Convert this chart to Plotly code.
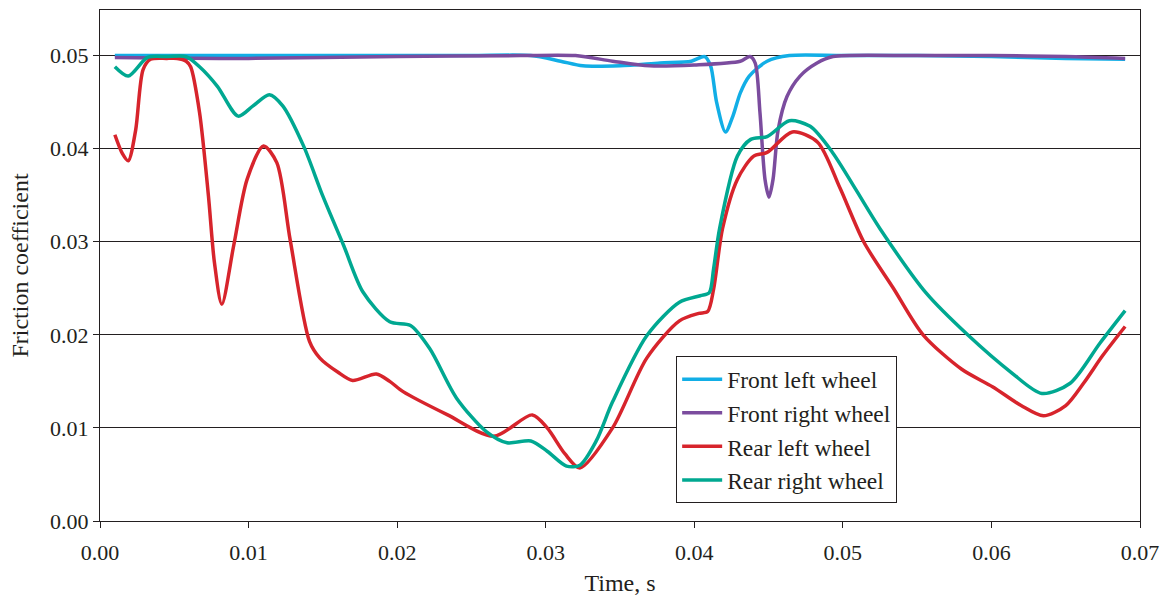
import plotly.graph_objects as go

# Friction coefficient of each wheel over time
t_front_left = [0.001, 0.005, 0.010, 0.015, 0.020, 0.025, 0.029, 0.031, 0.0325, 0.035, 0.0377,
                0.0398, 0.0407, 0.0411, 0.0415, 0.0421, 0.0426, 0.0431, 0.0437, 0.0449, 0.0464,
                0.050, 0.055, 0.060, 0.065, 0.069]
mu_front_left = [0.0500, 0.0500, 0.0500, 0.0500, 0.0500, 0.0500, 0.0500, 0.0494, 0.0489, 0.0489, 0.0492,
                 0.0494, 0.0499, 0.0489, 0.0450, 0.0418, 0.0435, 0.0460, 0.0478, 0.0494, 0.0500,
                 0.0500, 0.0500, 0.0499, 0.0497, 0.0496]

t_front_right = [0.001, 0.010, 0.020, 0.0283, 0.032, 0.0345, 0.0370, 0.0400, 0.0431, 0.04375, 0.0441,
                 0.04442, 0.04476, 0.04503, 0.0453, 0.04564, 0.04624, 0.04712, 0.04826, 0.04934,
                 0.055, 0.060, 0.065, 0.069]
mu_front_right = [0.0498, 0.0497, 0.0499, 0.0500, 0.0500, 0.0494, 0.0489, 0.0490, 0.0494, 0.0499, 0.0492,
                  0.0439, 0.0367, 0.0348, 0.0367, 0.0420, 0.0456, 0.0478, 0.0492, 0.0499,
                  0.0500, 0.0500, 0.0499, 0.0497]

t_rear_left = [0.0010, 0.0015, 0.0019, 0.0024, 0.0029, 0.0034, 0.0045, 0.0052, 0.0058, 0.0061, 0.0067,
               0.0073, 0.0077, 0.0082, 0.0090, 0.0099, 0.0110, 0.0119, 0.0128, 0.0141, 0.0148,
               0.0160, 0.0170, 0.0186, 0.0195, 0.0204, 0.0234, 0.0265, 0.0291, 0.0301, 0.0313,
               0.0323, 0.0345, 0.0368, 0.0390, 0.0403, 0.0409, 0.0413, 0.0419, 0.0429, 0.0440,
               0.0449, 0.0466, 0.0483, 0.0498, 0.0514, 0.0534, 0.0554, 0.0580, 0.0601, 0.0620,
               0.0635, 0.0650, 0.0662, 0.0675, 0.0690]
mu_rear_left = [0.0415, 0.0395, 0.0387, 0.0420, 0.0485, 0.0496, 0.0497, 0.0497, 0.0494, 0.0488, 0.0439,
                0.0349, 0.0278, 0.0233, 0.0296, 0.0367, 0.0403, 0.0385, 0.0302, 0.0193, 0.0175,
                0.0160, 0.0151, 0.0158, 0.0150, 0.0139, 0.0114, 0.0091, 0.0114, 0.0100, 0.0072,
                0.0057, 0.0100, 0.0175, 0.0215, 0.0223, 0.0225, 0.0249, 0.0314, 0.0367, 0.0392,
                0.0396, 0.0418, 0.0407, 0.0358, 0.0300, 0.0250, 0.0200, 0.0163, 0.0144, 0.0124,
                0.0113, 0.0124, 0.0148, 0.0178, 0.0209]

t_rear_right = [0.0010, 0.0019, 0.0032, 0.0045, 0.0058, 0.0067, 0.0079, 0.0093, 0.0103, 0.0114, 0.0123,
                0.0137, 0.0150, 0.0164, 0.0177, 0.0195, 0.0209, 0.0222, 0.0240, 0.0260, 0.0274,
                0.0290, 0.0301, 0.0314, 0.0323, 0.0334, 0.0345, 0.0368, 0.0390, 0.0404, 0.0410,
                0.0413, 0.0417, 0.0429, 0.0438, 0.0449, 0.0464, 0.0478, 0.0493, 0.0525, 0.0556,
                0.0584, 0.0613, 0.0634, 0.0653, 0.0673, 0.0690]
mu_rear_right = [0.0488, 0.0478, 0.0498, 0.0499, 0.0499, 0.0488, 0.0467, 0.0435, 0.0446, 0.0458, 0.0446,
                 0.0403, 0.0349, 0.0296, 0.0246, 0.0214, 0.0210, 0.0185, 0.0132, 0.0096, 0.0084,
                 0.0086, 0.0075, 0.0059, 0.0060, 0.0086, 0.0128, 0.0199, 0.0235, 0.0242, 0.0245,
                 0.0271, 0.0314, 0.0392, 0.0410, 0.0413, 0.0430, 0.0424, 0.0396, 0.0314, 0.0245,
                 0.0200, 0.0160, 0.0137, 0.0148, 0.0191, 0.0226]

series = [
    ("Front left wheel", t_front_left, mu_front_left, "#12aee6"),
    ("Front right wheel", t_front_right, mu_front_right, "#7b4c9e"),
    ("Rear left wheel", t_rear_left, mu_rear_left, "#d7242c"),
    ("Rear right wheel", t_rear_right, mu_rear_right, "#00a891"),
]

x_ticks = [0.00, 0.01, 0.02, 0.03, 0.04, 0.05, 0.06, 0.07]
y_ticks = [0.00, 0.01, 0.02, 0.03, 0.04, 0.05]

FONT = "Liberation Serif, Times New Roman, serif"
INK = "#231f20"

fig = go.Figure()
for name, tx, mu, color in series:
    fig.add_trace(go.Scatter(
        x=tx, y=mu, name=name, mode="lines",
        line=dict(color=color, width=3.5, shape="spline", smoothing=0.8),
    ))

fig.update_layout(
    width=1171, height=600,
    margin=dict(l=100, r=31, t=9, b=77),
    paper_bgcolor="white", plot_bgcolor="white",
    font=dict(family=FONT, size=22, color=INK),
    showlegend=True,
    legend=dict(
        x=0.554, y=0.322, xanchor="left", yanchor="top",
        bgcolor="white", bordercolor=INK, borderwidth=1,
        font=dict(family=FONT, size=23.5, color=INK),
        tracegroupgap=0, itemwidth=40,
    ),
)

fig.update_xaxes(
    range=[0, 0.07], tickvals=x_ticks, tickformat=".2f",
    showline=True, linecolor=INK, linewidth=1.2, mirror=True,
    ticks="outside", ticklen=6, tickcolor=INK, tickwidth=1.2,
    ticklabelstandoff=5,
    showgrid=False, zeroline=False,
    title=dict(text="Time, s", font=dict(family=FONT, size=24, color=INK), standoff=10),
    tickfont=dict(family=FONT, size=22, color=INK),
)
fig.update_yaxes(
    range=[0, 0.0549], tickvals=y_ticks, tickformat=".2f",
    showline=True, linecolor=INK, linewidth=1.2, mirror=True,
    ticks="outside", ticklen=6, tickcolor=INK, tickwidth=1.2,
    showgrid=True, gridcolor=INK, gridwidth=1, zeroline=False,
    title=dict(text="Friction coefficient", font=dict(family=FONT, size=24, color=INK), standoff=14),
    tickfont=dict(family=FONT, size=22, color=INK),
)

fig.write_html("out.html")
